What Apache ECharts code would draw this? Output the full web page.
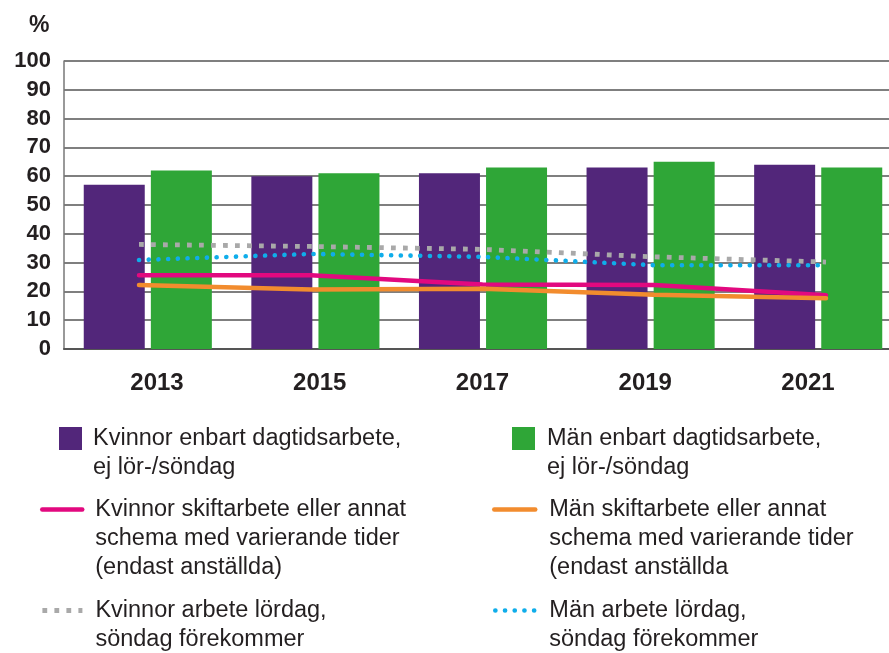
<!DOCTYPE html>
<html>
<head>
<meta charset="utf-8">
<script src="https://cdn.jsdelivr.net/npm/echarts@6/dist/echarts.min.js"></script>
<style>
html,body{margin:0;padding:0;background:#fff;}
#chart{width:889px;height:653px;}
</style>
</head>
<body>
<div id="chart"></div>
<script>
// ---- data ----
const years = ['2013', '2015', '2017', '2019', '2021'];
const kvinnorDag = [57, 60, 61, 63, 64];
const manDag = [62, 61, 63, 65, 63];
const kvinnorSkift = [25.6, 25.6, 22.4, 22.2, 18.7];
const manSkift = [22.2, 20.7, 20.9, 18.8, 17.6];
const kvinnorHelg = [36.3, 35.6, 34.6, 32.0, 30.2];
const manHelg = [30.9, 33.0, 32.0, 29.1, 29.1];
const yTicks = [0, 10, 20, 30, 40, 50, 60, 70, 80, 90, 100];

const names = {
  kDag: 'Kvinnor enbart dagtidsarbete, ej lör-/söndag',
  mDag: 'Män enbart dagtidsarbete, ej lör-/söndag',
  kSkift: 'Kvinnor skiftarbete eller annat schema med varierande tider (endast anställda)',
  mSkift: 'Män skiftarbete eller annat schema med varierande tider (endast anställda',
  kHelg: 'Kvinnor arbete lördag, söndag förekommer',
  mHelg: 'Män arbete lördag, söndag förekommer'
};
const legendLines = {
  kDag: ['Kvinnor enbart dagtidsarbete,', 'ej lör-/söndag'],
  mDag: ['Män enbart dagtidsarbete,', 'ej lör-/söndag'],
  kSkift: ['Kvinnor skiftarbete eller annat', 'schema med varierande tider', '(endast anställda)'],
  mSkift: ['Män skiftarbete eller annat', 'schema med varierande tider', '(endast anställda'],
  kHelg: ['Kvinnor arbete lördag,', 'söndag förekommer'],
  mHelg: ['Män arbete lördag,', 'söndag förekommer']
};

const colors = {
  purple: '#52267a', green: '#2fa637', pink: '#e2097f',
  orange: '#f28c2e', grey: '#a9a9a9', blue: '#0fadea'
};
const FONT = 'Liberation Sans, Arial, sans-serif';
const TXT = '#231f20';

// legend text: pad with blank lines above so the first line sits level with the icon
function legendString(key) {
  const ls = legendLines[key];
  const pad = [];
  for (let i = 1; i < ls.length; i++) pad.push(' ');
  return pad.concat(ls).join('\n');
}

function mkLegend(key, left, top, iw, ih, padLeft, icon) {
  const lg = {
    show: true,
    left: left, top: top,
    orient: 'vertical',
    padding: 0,
    selectedMode: false,
    itemWidth: iw, itemHeight: ih,
    data: [names[key]],
    formatter: () => legendString(key),
    textStyle: {
      fontFamily: FONT, fontSize: 23.5, color: TXT,
      lineHeight: 29,
      padding: [0, 0, 0, padLeft]
    }
  };
  if (icon) lg.icon = icon;
  else {
    lg.lineStyle = { width: 'inherit' };
    lg.itemStyle = { color: 'rgba(0,0,0,0)', borderWidth: 0, opacity: 0 };
  }
  return lg;
}

const chart = echarts.init(document.getElementById('chart'), null, { renderer: 'canvas' });

const hiddenY = (gi) => ({
  type: 'value', gridIndex: gi, min: 0, max: 100, interval: 10,
  show: false
});

const option = {
  animation: false,
  backgroundColor: '#fff',
  title: {
    text: '%', left: 29, top: 14, padding: 0,
    textStyle: { fontFamily: FONT, fontSize: 23, fontWeight: 'bold', color: TXT }
  },
  grid: [
    { left: 64, right: -13, top: 61, bottom: 304, outerBoundsMode: 'none', containLabel: false },
    { left: 139, right: 63, top: 61, bottom: 304, outerBoundsMode: 'none' },
    { left: 157, right: 81, top: 61, bottom: 304, outerBoundsMode: 'none' }
  ],
  xAxis: [
    {
      type: 'category', gridIndex: 0, data: years,
      axisLine: { show: true, lineStyle: { color: '#555', width: 2 } },
      axisTick: { show: false },
      axisLabel: { show: false }
    },
    {
      type: 'category', gridIndex: 1, data: years, boundaryGap: false,
      show: false
    },
    {
      type: 'category', gridIndex: 2, data: years, boundaryGap: false,
      axisLine: { show: false }, axisTick: { show: false },
      axisLabel: { show: true, margin: 22, fontFamily: FONT, fontSize: 24, fontWeight: 'bold', color: TXT }
    }
  ],
  yAxis: [
    {
      type: 'value', gridIndex: 0, min: yTicks[0], max: yTicks[yTicks.length - 1], interval: 10,
      axisLine: { show: true, lineStyle: { color: '#777', width: 1.5 } },
      axisTick: { show: false },
      splitLine: { show: true, lineStyle: { color: '#555', width: 1.5 } },
      axisLabel: { margin: 13, fontFamily: FONT, fontSize: 22, fontWeight: 'bold', color: TXT }
    },
    hiddenY(1),
    hiddenY(2)
  ],
  legend: [
    mkLegend('kDag', 59, 395, 23, 23, 6, 'rect'),
    mkLegend('mDag', 512, 395, 23, 23, 7, 'rect'),
    mkLegend('kSkift', 40, 437, 40, 10, 8, null),
    mkLegend('mSkift', 492, 437, 41, 10, 9, null),
    mkLegend('kHelg', 40, 567, 40, 10, 8, null),
    mkLegend('mHelg', 493, 567, 42, 10, 7, null)
  ],
  series: [
    {
      name: names.kDag, type: 'bar', xAxisIndex: 0, yAxisIndex: 0,
      data: kvinnorDag, barWidth: 61, barGap: '10%',
      itemStyle: { color: colors.purple }
    },
    {
      name: names.mDag, type: 'bar', xAxisIndex: 0, yAxisIndex: 0,
      data: manDag, barWidth: 61, barGap: '10%',
      itemStyle: { color: colors.green }
    },
    {
      name: names.kHelg, type: 'line', xAxisIndex: 1, yAxisIndex: 1, z: 3,
      data: kvinnorHelg, symbol: 'none',
      lineStyle: { color: colors.grey, width: 4.8, type: [4.8, 7.2], cap: 'butt' },
      itemStyle: { color: colors.grey }
    },
    {
      name: names.mHelg, type: 'line', xAxisIndex: 1, yAxisIndex: 1, z: 3,
      data: manHelg, symbol: 'none',
      lineStyle: { color: colors.blue, width: 4.6, type: [0.1, 9.6], cap: 'round' },
      itemStyle: { color: colors.blue }
    },
    {
      name: names.kSkift, type: 'line', xAxisIndex: 1, yAxisIndex: 1, z: 3,
      data: kvinnorSkift, symbol: 'none',
      lineStyle: { color: colors.pink, width: 4.5, cap: 'round' },
      itemStyle: { color: colors.pink }
    },
    {
      name: names.mSkift, type: 'line', xAxisIndex: 1, yAxisIndex: 1, z: 3,
      data: manSkift, symbol: 'none',
      lineStyle: { color: colors.orange, width: 4.5, cap: 'round' },
      itemStyle: { color: colors.orange }
    }
  ]
};
chart.setOption(option);
</script>
</body>
</html>
